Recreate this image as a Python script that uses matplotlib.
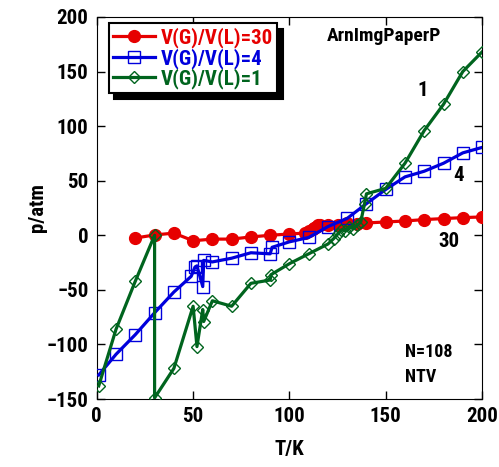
import matplotlib
matplotlib.use('Agg')
import matplotlib.pyplot as plt

plt.rcParams['font.family'] = ['Liberation Sans Narrow', 'Roboto Condensed',
                               'Archivo Narrow', 'PT Sans Narrow', 'DejaVu Sans']
plt.rcParams['font.weight'] = 'bold'
plt.rcParams['axes.labelweight'] = 'bold'

# V(G)/V(L)=30
red_T = [20, 30, 40, 50, 60, 70, 80, 90, 100, 108, 110, 112, 113, 114, 115, 116,
         120, 125, 130, 135, 140, 150, 160, 170, 180, 190, 200]
red_p = [-2.5, 0.3, 2, -5, -3.5, -3.5, -1.5, 0, 1.2, 2, 4, 6, 7, 8, 9, 9.5,
         9, 9.5, 11, 10.5, 11.3, 12.2, 13.1, 14.4, 15.3, 16.2, 16.8]

# V(G)/V(L)=4
blue_T = [1, 10, 20, 30, 40, 49, 51, 52, 55, 55.5, 60, 70, 80, 90, 91, 100,
          110, 120, 130, 140, 150, 160, 170, 180, 190, 200]
blue_p = [-128, -109, -91, -71, -52, -37.6, -29, -28, -47, -23, -24.4, -21, -16,
          -17, -11, -6, -2, 8, 15.5, 29, 42, 53.5, 58.7, 66, 75.5, 80.5]

# V(G)/V(L)=1
green_T = [1, 10, 20, 30, 30, 40, 50, 52, 55, 55.5, 60, 70, 80, 90, 90.5, 100,
           110, 120, 123, 125, 127, 129, 131, 133, 135, 137, 139, 140, 150, 160,
           170, 180, 190, 200]
green_p = [-138, -86, -42, 0, -149, -122, -65, -102, -68, -79, -60, -65, -44, -41,
           -36, -26, -17, -8, -3, 1, 5, 4, 8, 6, 9, 12, 29, 38, 43, 66,
           96, 120, 150, 168]

red = '#e60000'
blue = '#0000dc'
green = '#00641e'

fig = plt.figure(figsize=(4.99, 4.67), dpi=100)
ax = fig.add_axes([0.194, 0.1456, 0.772, 0.818])

ax.plot(red_T, red_p, color=red, lw=2.3, marker='o', ms=8.5, mfc=red, mec=red,
        label='V(G)/V(L)=30', zorder=3)
ax.plot(blue_T, blue_p, color=blue, lw=2.3, marker='s', ms=8, mfc='none', mec=blue,
        mew=1, label='V(G)/V(L)=4', zorder=4)
ax.plot(green_T, green_p, color=green, lw=2.3, marker='D', ms=6, mfc='none', mec=green,
        mew=1, label='V(G)/V(L)=1', zorder=5)

ax.set_xlim(0, 200)
ax.set_ylim(-150, 200)
ax.set_xticks([0, 50, 100, 150, 200])
ax.set_yticks([-150, -100, -50, 0, 50, 100, 150, 200])
ax.tick_params(direction='in', length=6, width=1, top=True, right=True,
               labelsize=15, pad=6)
ax.set_xlabel('T/K', fontsize=15, labelpad=10)
ax.set_ylabel('p/atm', fontsize=15, labelpad=0)

ax.text(149, 183, 'ArnImgPaperP', fontsize=14, ha='center', va='center')
ax.text(169, 133, '1', fontsize=15, ha='center', va='center')
ax.text(188, 55, '4', fontsize=15, ha='center', va='center')
ax.text(183, -6, '30', fontsize=15, ha='center', va='center')
ax.text(160, -107, 'N=108', fontsize=13, ha='left', va='center')
ax.text(160, -130, 'NTV', fontsize=13, ha='left', va='center')

leg = ax.legend(loc='upper left', bbox_to_anchor=(0.02, 0.995), fontsize=15,
                frameon=True, fancybox=False,
                shadow={'color': 'black', 'alpha': 1, 'ox': 4, 'oy': -4},
                handlelength=2.0, handletextpad=0.3, borderpad=0.2, labelspacing=0.0,
                borderaxespad=0.2)
leg.get_frame().set_edgecolor('black')
leg.get_frame().set_linewidth(1.5)
for txt, c in zip(leg.get_texts(), [red, blue, green]):
    txt.set_color(c)

plt.savefig('out.png', dpi=100)
